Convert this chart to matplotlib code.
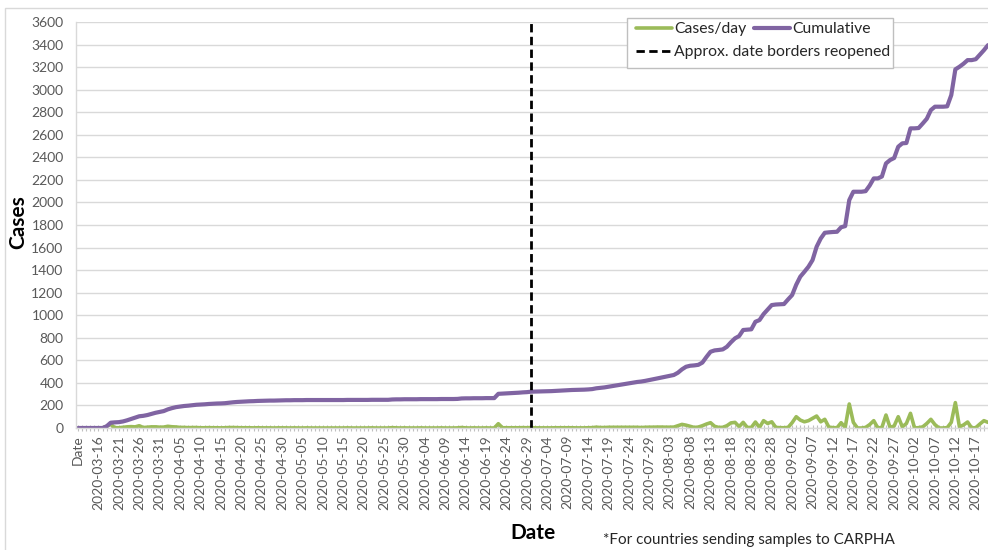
import matplotlib
matplotlib.use("Agg")
import matplotlib.pyplot as plt
import pandas as pd
from matplotlib.patches import Rectangle

# categories: header cell "Date" then one entry per day
DATES = pd.date_range("2020-03-12", "2020-10-20").strftime("%Y-%m-%d").tolist()
CATEGORIES = ["Date"] + DATES

CASES_PER_DAY = [
    0, 0, 0, 0, 0, 0, 0, 15, 32, 3,
    2, 6, 10, 12, 10, 20, 4, 7, 10, 10,
    7, 8, 15, 11, 9, 5, 5, 3, 4, 4,
    2, 2, 3, 2, 2, 1, 2, 4, 4, 3,
    2, 2, 2, 1, 2, 1, 1, 1, 0, 1,
    1, 1, 0, 1, 0, 0, 1, 0, 0, 0,
    0, 0, 0, 0, 0, 0, 1, 0, 0, 0,
    0, 0, 1, 0, 0, 0, 0, 3, 1, 0,
    1, 0, 0, 0, 1, 0, 0, 0, 0, 1,
    0, 0, 0, 1, 4, 1, 0, 1, 0, 0,
    1, 0, 0, 38, 2, 2, 2, 2, 2, 3,
    2, 4, 1, 1, 1, 1, 1, 2, 2, 2,
    2, 2, 1, 1, 1, 2, 3, 7, 4, 4,
    6, 6, 6, 6, 6, 6, 6, 6, 4, 6,
    7, 7, 8, 8, 7, 7, 8, 20, 32, 25,
    15, 5, 8, 20, 35, 47, 15, 5, 6, 20,
    45, 50, 12, 50, 5, 5, 53, 5, 65, 40,
    55, 5, 3, 2, 5, 47, 100, 70, 55, 65,
    85, 106, 55, 77, 8, 3, 2, 47, 5, 213,
    50, 0, 0, 5, 30, 65, 0, 5, 115, 5,
    18, 100, 10, 40, 130, 0, 3, 10, 40, 77,
    30, 0, 0, 3, 50, 225, 10, 27, 53, 0,
    3, 35, 65, 50,
]

CUMULATIVE = [
    0, 0, 0, 0, 0, 0, 0, 15, 47, 50,
    52, 58, 68, 80, 92, 104, 108, 115, 125, 135,
    142, 150, 165, 176, 185, 190, 195, 198, 202, 206,
    208, 210, 213, 215, 217, 218, 220, 224, 228, 231,
    233, 235, 237, 238, 240, 241, 242, 243, 243, 244,
    245, 246, 246, 247, 247, 247, 248, 248, 248, 248,
    248, 248, 248, 248, 248, 248, 249, 249, 249, 249,
    249, 249, 250, 250, 250, 250, 250, 253, 254, 254,
    255, 255, 255, 255, 256, 256, 256, 256, 256, 257,
    257, 257, 257, 258, 262, 263, 263, 264, 264, 264,
    265, 265, 265, 303, 305, 307, 309, 311, 313, 316,
    318, 322, 323, 324, 325, 326, 327, 329, 331, 333,
    335, 337, 338, 339, 340, 342, 345, 352, 356, 360,
    366, 372, 378, 384, 390, 396, 402, 408, 412, 418,
    425, 432, 440, 448, 455, 462, 470, 490, 520, 543,
    552, 555, 560, 580, 630, 676, 688, 692, 697, 720,
    760, 795, 815, 869, 872, 875, 942, 957, 1010, 1050,
    1090, 1095, 1097, 1099, 1140, 1179, 1270, 1342, 1385, 1430,
    1489, 1607, 1680, 1731, 1735, 1738, 1740, 1780, 1790, 2021,
    2095, 2095, 2095, 2100, 2150, 2213, 2213, 2230, 2346, 2376,
    2394, 2494, 2524, 2527, 2657, 2657, 2660, 2700, 2742, 2819,
    2849, 2849, 2849, 2852, 2952, 3180, 3203, 3230, 3262, 3262,
    3270, 3310, 3350, 3395,
]

REOPEN_DATE = "2020-06-30"
Y_TICKS = list(range(0, 3601, 200))

GREEN = "#9BBB59"
PURPLE = "#8064A2"
TEXT_GREY = "#595959"
GRID = "#D9D9D9"

plt.rcParams["font.family"] = ["Lato", "DejaVu Sans"]


def main():
    fig = plt.figure(figsize=(9.88, 5.5), dpi=100)
    ax = fig.add_axes([76 / 988, 122 / 550, 912 / 988, 406 / 550])

    x = list(range(len(CATEGORIES)))
    green, = ax.plot(x, CASES_PER_DAY, color=GREEN, lw=2.6, label="Cases/day",
                     solid_joinstyle="round", solid_capstyle="round")
    purple, = ax.plot(x, CUMULATIVE, color=PURPLE, lw=3.0, label="Cumulative",
                      solid_joinstyle="round", solid_capstyle="round")
    dash = ax.axvline(CATEGORIES.index(REOPEN_DATE), color="black", lw=2.0,
                      linestyle=(0, (3, 1.6)), label="Approx. date borders reopened")

    ax.set_xlim(-0.5, 222.5)
    ax.set_ylim(0, 3600)
    ax.set_yticks(Y_TICKS)
    ax.set_xticks(x[::5])
    ax.set_xticklabels(CATEGORIES[::5], rotation=90)
    ax.set_xticks(x, minor=True)

    ax.yaxis.grid(True, color=GRID, lw=1)
    ax.set_axisbelow(True)
    for side in ("top", "right"):
        ax.spines[side].set_visible(False)
    for side in ("left", "bottom"):
        ax.spines[side].set_color(GRID)
        ax.spines[side].set_linewidth(1)

    ax.tick_params(axis="y", length=0, pad=9, labelsize=10, labelcolor=TEXT_GREY)
    ax.tick_params(axis="x", which="both", direction="inout", length=4,
                   color="#BFBFBF", width=0.8, pad=3, labelsize=10, labelcolor=TEXT_GREY)

    # legend: two rows inside one box
    box = Rectangle((627 / 988, 1 - 68 / 550), 266 / 988, 50 / 550,
                    transform=fig.transFigure, clip_on=False, zorder=4,
                    facecolor="white", edgecolor="#BFBFBF", lw=1)
    ax.add_patch(box)
    common = dict(loc="upper left", bbox_transform=fig.transFigure, frameon=False,
                  fontsize=11.3, handlelength=2.3, handletextpad=0.15,
                  columnspacing=0.45, borderpad=0, borderaxespad=0)
    leg1 = ax.legend([green, purple], ["Cases/day", "Cumulative"], ncol=2,
                     bbox_to_anchor=(636 / 988, 1 - 22 / 550), **common)
    ax.add_artist(leg1)
    leg2 = ax.legend([dash], ["Approx. date borders reopened"],
                     bbox_to_anchor=(636 / 988, 1 - 45 / 550), **common)
    for leg in (leg1, leg2):
        for t in leg.get_texts():
            t.set_color("#262626")

    fig.text(18 / 988, 1 - 222 / 550, "Cases", rotation=90, fontsize=15,
             fontweight="bold", ha="center", va="center")
    fig.text(533 / 988, 1 - 533 / 550, "Date", fontsize=15, fontweight="bold",
             ha="center", va="center")
    fig.text(603 / 988, 1 - 540 / 550, "*For countries sending samples to CARPHA",
             fontsize=11, ha="left", va="center", color="#262626")

    # chart area border
    fig.add_artist(Rectangle((5 / 988, -0.05), 1.0, 1.05 - 8 / 550, fill=False,
                             ec=GRID, lw=1, transform=fig.transFigure))

    fig.savefig("out.png", dpi=100)


if __name__ == "__main__":
    main()
